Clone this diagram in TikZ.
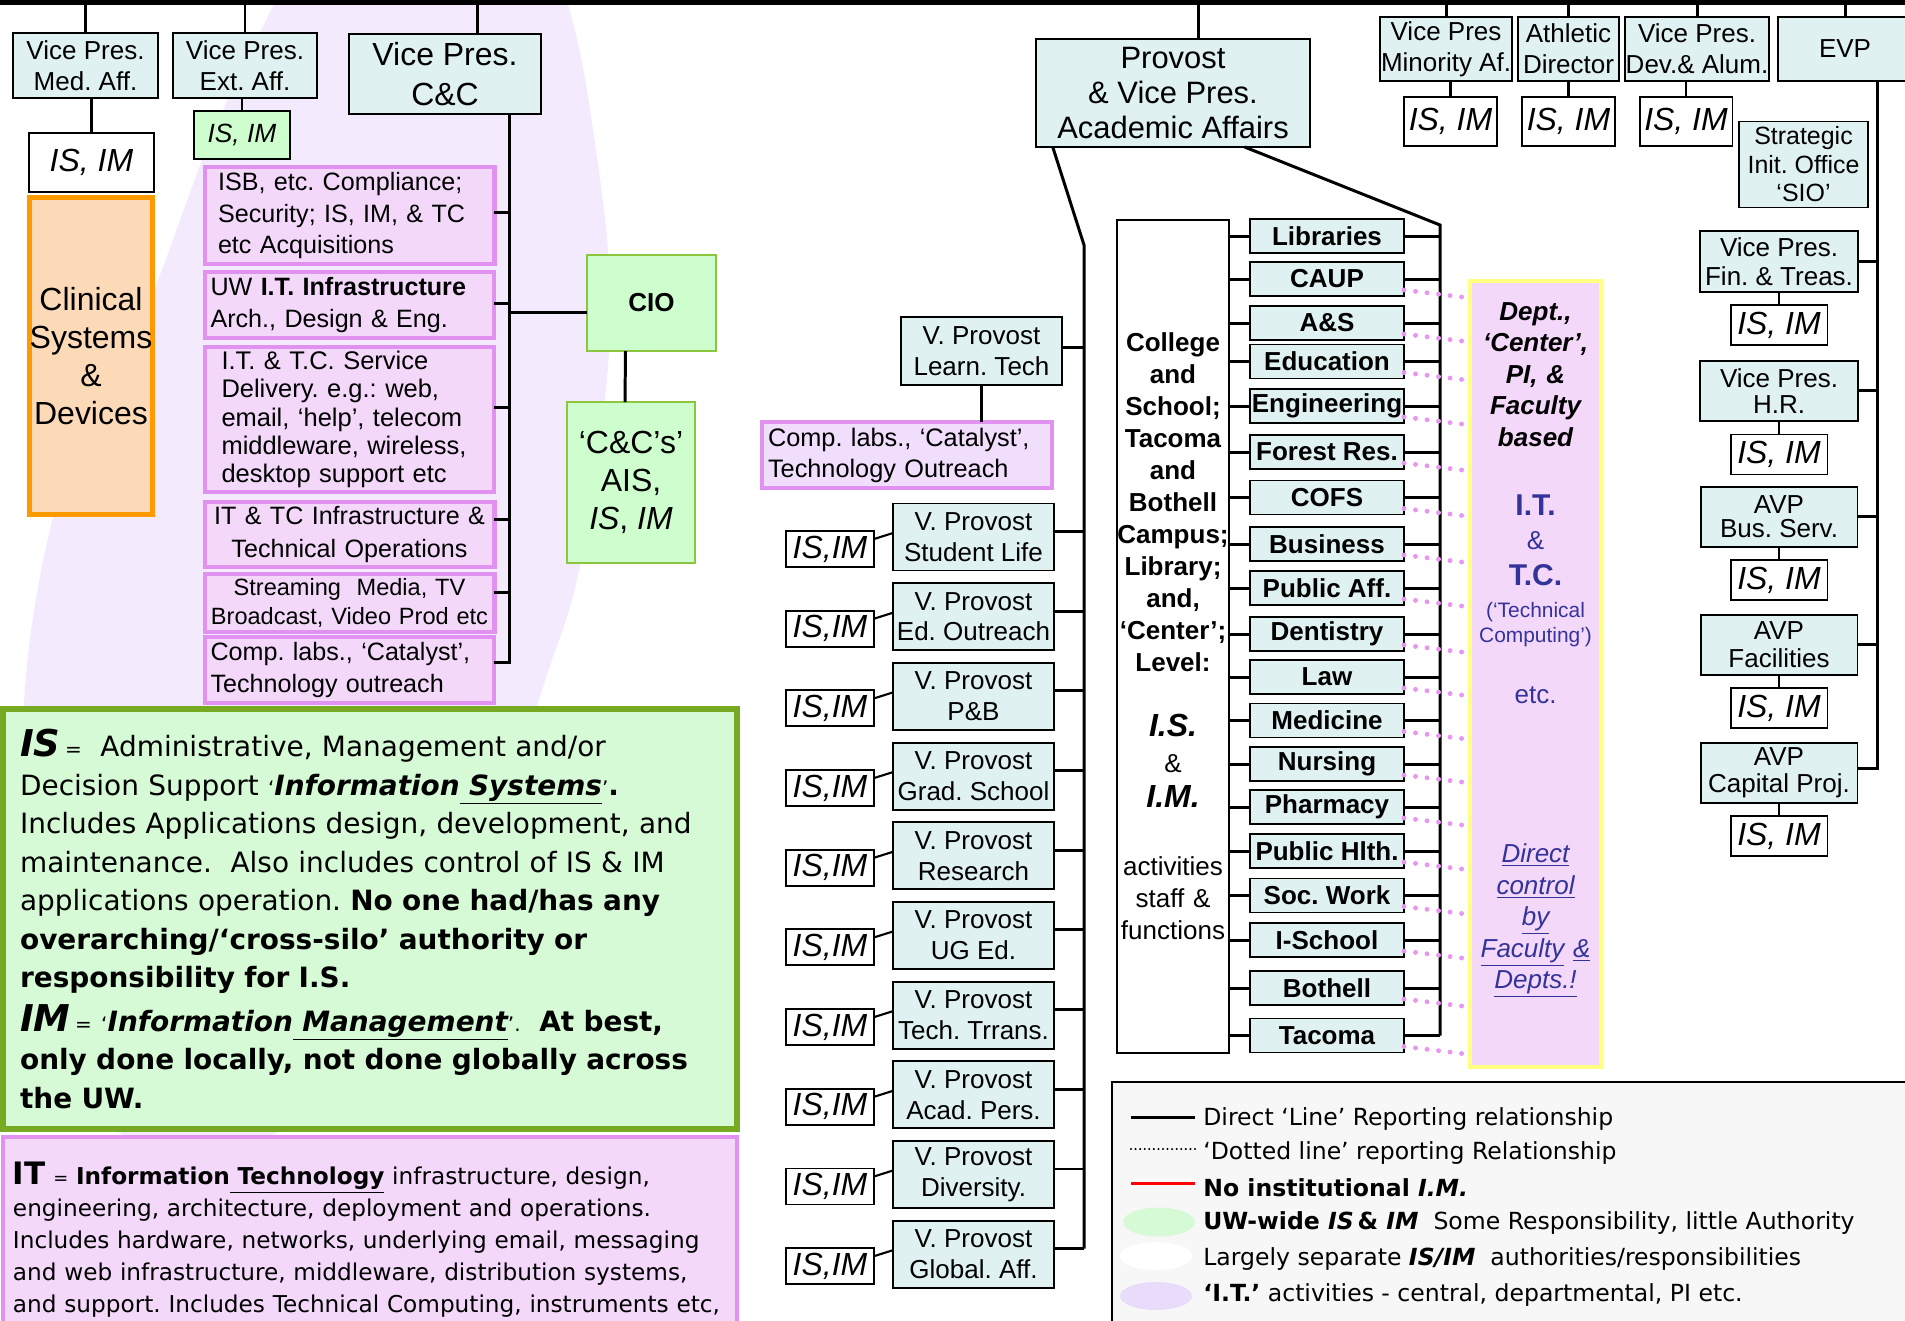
\documentclass[tikz,border=0pt]{standalone}
\usepackage{fontspec}
\setmainfont{Liberation Sans}
\newfontfamily\tahoma{DejaVu Sans}
\usepackage{tikz}
\usetikzlibrary{calc,positioning}
\usepackage{color}
\frenchspacing
\hyphenpenalty=10000
\exhyphenpenalty=10000
\definecolor{vpcyan}{RGB}{223,241,241}
\definecolor{isgreen}{RGB}{206,253,206}
\definecolor{itpink}{RGB}{243,216,250}
\definecolor{labspink}{RGB}{240,222,252}
\definecolor{itpurple}{RGB}{225,145,240}
\definecolor{clinfill}{RGB}{252,218,184}
\definecolor{clinorange}{RGB}{255,153,0}
\definecolor{descgreen}{RGB}{214,250,214}
\definecolor{descborder}{RGB}{119,170,34}
\definecolor{cioborder}{RGB}{140,198,63}
\definecolor{deptyellow}{RGB}{255,255,128}
\definecolor{itblue}{RGB}{51,51,153}
\definecolor{blobpurple}{RGB}{243,235,253}
\definecolor{legendgray}{RGB}{247,247,247}
\definecolor{legendgreen}{RGB}{213,250,213}
\definecolor{legendlilac}{RGB}{232,220,250}
\definecolor{dotpink}{RGB}{232,150,240}
\newcommand{\fpx}[2]{\fontsize{#1}{#2}\selectfont}
\tikzstyle{orgbox} = [rectangle, draw=black, line width=1.1pt, inner sep=0pt, outer sep=0pt, align=center]
\tikzstyle{vpbox} = [orgbox, fill=vpcyan, font=\fpx{14.8pt}{17.6pt}]
\tikzstyle{provbox} = [vpbox, minimum width=3.22cm, minimum height=1.34cm, node distance=1.594cm]
\tikzstyle{isbox} = [orgbox, fill=white, font=\fpx{18.2pt}{20pt}\itshape]
\tikzstyle{itbox} = [orgbox, draw=itpurple, fill=itpink, line width=2.3pt, align=left, inner xsep=0.12cm, text width=5.56cm, font=\fpx{14.3pt}{18pt}]
\tikzstyle{collbox} = [vpbox, minimum width=3.08cm, minimum height=0.68cm, font=\fpx{14.8pt}{17pt}\bfseries]
\tikzstyle{legtext} = [anchor=west, inner sep=0pt, font=\tahoma\fpx{13.4pt}{15pt}]
\tikzstyle{link} = [line width=1.7pt]
\tikzstyle{thinlink} = [line width=1.2pt]
\tikzstyle{dotlink} = [draw=dotpink, line width=2.8pt, line cap=round, dash pattern=on 0pt off 6.6pt]

\begin{document}
\begin{tikzpicture}[x=0.02cm, y=-0.02cm]
\path[use as bounding box, clip] (0,0) rectangle (1905,1320);

\fill[blobpurple] plot[smooth cycle, tension=0.7] coordinates {(276,0) (213,133) (150,300) (90,430) (53,517) (24,703) (30,900) (78,1090) (180,1150) (291,1125) (400,1030) (480,900) (538,703) (577,580) (600,440) (610,300) (596,150) (567,0) (520,-120) (400,-150) (320,-90)};

\draw[line width=2.8pt] (0,2.5) -- (1905,2.5);
\coordinate (bar) at (0,2.5);

\node[vpbox, minimum width=2.9cm, minimum height=1.3cm] (medaff) at (85.5,65.5) {Vice Pres.\\Med. Aff.};
\node[isbox, minimum width=2.5cm, minimum height=1.18cm] (medaff-is) at (91.5,162.5) {IS, IM};
\node[orgbox, draw=clinorange, fill=clinfill, line width=3pt, minimum width=2.42cm, minimum height=6.34cm, font=\fpx{18.2pt}{21.6pt}] (clin) at (91,356) {Clinical\\Systems\\\&\\Devices};
\node[vpbox, minimum width=2.89cm, minimum height=1.3cm] (extaff) at (245,65.5) {Vice Pres.\\Ext. Aff.};
\node[isbox, fill=isgreen, minimum width=1.92cm, minimum height=0.96cm, font=\fpx{15pt}{17pt}\itshape] (extaff-is) at (242,135) {IS, IM};
\node[vpbox, minimum width=3.85cm, minimum height=1.6cm, font=\fpx{18.2pt}{22.8pt}] (cc) at (445,74) {Vice Pres.\\C\&C};

\node[itbox, inner xsep=0.27cm, text width=5.26cm, minimum height=1.94cm] (isb) at (349.5,215.5) {ISB, etc. Compliance;\\Security; IS, IM, \& TC\\etc Acquisitions};
\node[itbox, minimum height=1.32cm] (uwit) at (349.5,305) {UW \textbf{I.T. Infrastructure}\\Arch., Design \& Eng.};
\node[itbox, inner xsep=0.34cm, text width=5.12cm, minimum height=2.9cm, font=\fpx{14.5pt}{16.1pt}] (itsd) at (349.5,419.5) {I.T. \& T.C. Service\\Delivery. e.g.: web,\\email, ‘help’, telecom\\middleware, wireless,\\desktop support etc};
\node[itbox, align=center, inner xsep=0.05cm, text width=5.7cm, minimum height=1.3cm, font=\fpx{14.3pt}{18.6pt}] (ittc) at (349.5,534.5) {IT \& TC Infrastructure \&\\Technical Operations};
\node[itbox, align=center, inner xsep=0.05cm, text width=5.7cm, minimum height=1.16cm, font=\fpx{13.4pt}{16.1pt}] (strm) at (349.5,603) {Streaming~~Media, TV\\Broadcast, Video Prod etc};
\node[itbox, minimum height=1.32cm] (labs) at (349.5,670) {Comp. labs., ‘Catalyst’,\\Technology outreach};

\node[orgbox, fill=isgreen, draw=cioborder, minimum width=2.57cm, minimum height=1.92cm, font=\fpx{14.8pt}{17pt}\bfseries] (cio) at (651.5,303) {CIO};
\node[orgbox, fill=isgreen, draw=cioborder, minimum width=2.57cm, minimum height=3.22cm, font=\fpx{18.2pt}{21.6pt}] (ccs) at (631,482.5) {‘C\&C’s’\\AIS,\\\textit{IS}, \textit{IM}};

\node[orgbox, draw=descborder, fill=descgreen, line width=3.4pt, minimum width=14.68cm, minimum height=8.4cm, align=left, inner xsep=0.34cm, text width=14cm, font=\tahoma\fpx{15.9pt}{21.9pt}] (isdesc) at (370,919) {{\fpx{21pt}{21.9pt}\bfseries\itshape IS}\,{\fpx{11.4pt}{21.9pt}=}~~Administrative, Management and/or\\
Decision Support {\fpx{11.4pt}{21.9pt}‘}{\bfseries\itshape Information\underline{\ Systems}}{\fpx{11.4pt}{21.9pt}’}\textbf{.}\\
Includes Applications design, development, and\\
maintenance.~~Also includes control of IS \& IM\\
applications operation. \textbf{No one had/has any}\\
\textbf{overarching/‘cross-silo’ authority or}\\
\textbf{responsibility for I.S.}\\[3pt]
{\fpx{21pt}{21.9pt}\bfseries\itshape IM}\,{\fpx{11.4pt}{21.9pt}= ‘}{\bfseries\itshape Information\underline{\ Management}}{\fpx{11.4pt}{21.9pt}’.}~~\textbf{At best,}\\
\textbf{only done locally, not done globally across}\\
\textbf{the UW.}};

\node[orgbox, draw=itpurple, fill=itpink, line width=2.3pt, anchor=north west, inner xsep=0.2cm, inner ysep=0.5cm, text width=14.28cm, align=left, font=\tahoma\fpx{13.2pt}{18.2pt}] (itdesc) at (3,1137) {{\fpx{17.6pt}{18.2pt}\bfseries IT}~{\fpx{10.2pt}{18.2pt}=}~\textbf{Information\underline{\ Technology}} infrastructure, design,\\
engineering, architecture, deployment and operations.\\
Includes hardware, networks, underlying email, messaging\\
and web infrastructure, middleware, distribution systems,\\
and support. Includes Technical Computing, instruments etc,};

\draw[link] (medaff-is.north) -- (medaff-is.north |- medaff.south);
\draw[thinlink] (extaff-is.north) -- (extaff-is.north |- extaff.south);
\draw[link] ($(cc.north)+(32,0)$) -- ($(cc.north |- bar)+(32,0)$);
\coordinate (ccbus) at (509,114);
\draw[link] (ccbus) -- ($(ccbus |- labs.east)+(0,-8)$) -- ($(labs.east)+(0,-8)$);
\foreach \b/\s in {isb/-3, uwit/-2, itsd/-12, ittc/-15, strm/-11}
  \draw[link] ($(\b.east)+(0,\s)$) -- ($(\b.east -| ccbus)+(0,\s)$);
\draw[link] ($(cio.west)+(0,9)$) -- ($(cio.west -| ccbus)+(0,9)$);
\draw[link] ($(cio.south)+(-26,0)$) -- ($(ccs.north)+(-6,0)$);

\node[vpbox, minimum width=5.48cm, minimum height=2.16cm, font=\fpx{17.6pt}{19.9pt}] (prov) at (1173,93) {Provost\\\& Vice Pres.\\Academic Affairs};
\draw[link] ($(prov.north)+(25.6,0)$) -- ($(prov.north |- bar)+(25.6,0)$);

\node[vpbox, minimum width=3.22cm, minimum height=1.36cm] (learn) at (981.5,351) {V. Provost\\Learn. Tech};
\node[itbox, fill=labspink, minimum height=1.32cm, font=\fpx{14.4pt}{17.6pt}] (labs2) at (907,455) {Comp. labs., ‘Catalyst’,\\Technology Outreach};

\node[provbox] (vp1) at (973.5,537) {V. Provost\\Student Life};
\node[provbox] (vp2) [below of=vp1] {V. Provost\\Ed. Outreach};
\node[provbox] (vp3) [below of=vp2] {V. Provost\\P\&B};
\node[provbox] (vp4) [below of=vp3] {V. Provost\\Grad. School};
\node[provbox] (vp5) [below of=vp4] {V. Provost\\Research};
\node[provbox] (vp6) [below of=vp5] {V. Provost\\UG Ed.};
\node[provbox] (vp7) [below of=vp6] {V. Provost\\Tech. Trrans.};
\node[provbox] (vp8) [below of=vp7] {V. Provost\\Acad. Pers.};
\node[provbox] (vp9) [below of=vp8] {V. Provost\\Diversity.};
\node[provbox] (vp10) [below of=vp9] {V. Provost\\Global. Aff.};

\foreach \x in {1,...,10}
  \node[isbox, minimum width=1.76cm, minimum height=0.72cm] (vp\x-is) [left of=vp\x, node distance=2.87cm, yshift=-0.24cm] {IS,IM};

\coordinate (lbus) at (1084,245);
\draw[link] ($(prov.south west)+(16.7,0)$) -- (lbus) -- ($(lbus |- vp10.east)+(0,-5.5)$);
\draw[link] ($(learn.east)+(0,-4)$) -- ($(learn.east -| lbus)+(0,-4)$);
\draw[thinlink] (learn.south) -- (learn.south |- labs2.north);
\foreach \x in {1,...,10} {
  \draw[link] ($(vp\x.east)+(0,-5.5)$) -- ($(vp\x.east -| lbus)+(0,-5.5)$);
  \draw[thinlink] ($(vp\x-is.east)+(0,-10)$) -- ($(vp\x.west)+(0,-4)$);
}

\node[orgbox, fill=white, minimum height=16.66cm, text width=2.24cm, font=\fpx{14.8pt}{18.2pt}\bfseries] (coll) at (1173,636.5) {College\\and\\School;\\Tacoma\\and\\Bothell\\Campus;\\Library;\\and,\\‘Center’;\\Level:\\[19pt]\itshape\fpx{18.2pt}{18.2pt}I.S.\\[2pt]\upshape\mdseries\fpx{14.8pt}{18.2pt}\&\\[2pt]\bfseries\itshape\fpx{18.2pt}{18.2pt}I.M.\\[20.5pt]\upshape\mdseries\fpx{14.8pt}{18.2pt}activities\\staff \&\\functions};

\foreach \i/\name/\y in {1/Libraries/236, 2/CAUP/279, 3/A\&S/323, 4/Education/361.5, 5/Engineering/406, 6/Forest Res./452, 7/COFS/497.5, 8/Business/544, 9/Public Aff./588, 10/Dentistry/634, 11/Law/677, 12/Medicine/720.5, 13/Nursing/764, 14/Pharmacy/807, 15/Public Hlth./851, 16/Soc. Work/895.5, 17/I-School/940, 18/Bothell/988, 19/Tacoma/1035.5}
  \node[collbox] (col\i) at (1327,\y) {\name};

\node[orgbox, draw=deptyellow, fill=itpink, line width=2.3pt, minimum width=2.62cm, minimum height=15.72cm] (dept) at (1535.5,674) {};
\node[anchor=north, inner sep=0pt, text width=2.6cm, align=center, font=\fpx{14.8pt}{17.9pt}\bfseries\itshape] (depttext) at (1535.5,302) {Dept.,\\‘Center’,\\PI, \&\\Faculty\\based\\[21.9pt]\upshape\color{itblue}\fpx{17.1pt}{17.9pt}I.T.\\[1.4pt]\mdseries\fpx{14.8pt}{17.9pt}\&\\[2.6pt]\bfseries\fpx{17.1pt}{17.9pt}T.C.\\\mdseries\fpx{11.9pt}{17.9pt}(‘Technical\\[-3.7pt]Computing’)\\[16.8pt]\fpx{14.8pt}{17.9pt}etc.\\[73pt]\itshape\underline{Direct}\\\underline{control}\\\underline{by}\\\underline{Faculty}~\underline{\&}\\\underline{Depts.!}};

\coordinate (rbus) at (1440,225);
\draw[link] ($(prov.south)+(71.6,0)$) -- (rbus) -- (rbus |- col19.east);
\foreach \i in {1,...,19} {
  \draw[link] (coll.east |- col\i.west) -- (col\i.west);
  \draw[link] (col\i.east) -- (col\i.east -| rbus);
}
\foreach \i in {2,...,19}
  \draw[dotlink] ($(col\i.south east)+(0,-6)$) -- ($(col\i.south east -| dept.west)+(0,2)$);

\node[vpbox, minimum width=2.64cm, minimum height=1.28cm] (minaf) at (1446,49) {Vice Pres\\Minority Af.};
\node[vpbox, minimum width=2.02cm, minimum height=1.28cm] (athl) at (1568.5,49) {Athletic\\Director};
\node[vpbox, minimum width=2.88cm, minimum height=1.28cm] (devaf) at (1697,49) {Vice Pres.\\Dev.\& Alum.};
\node[vpbox, minimum width=2.68cm, minimum height=1.28cm] (evp) at (1845,49) {EVP};
\foreach \n/\s in {minaf/4.5, athl/0, devaf/-11} {
  \node[isbox, minimum width=1.86cm, minimum height=0.98cm, xshift=\s*0.02cm] (\n-is) [below of=\n, node distance=1.45cm] {IS, IM};
  \draw[thinlink] (\n-is.north) -- (\n-is.north |- \n.south);
}
\foreach \n in {medaff,extaff,minaf,athl,devaf,evp}
  \draw[link] (\n.north) -- (\n.north |- bar);

\node[vpbox, minimum width=2.58cm, minimum height=1.72cm, font=\fpx{14.2pt}{16.2pt}] (sio) at (1803.5,164.5) {Strategic\\Init. Office\\‘SIO’};
\node[vpbox, minimum width=3.16cm, minimum height=1.22cm, font=\fpx{14.8pt}{16.8pt}] (fin) at (1779,261.5) {Vice Pres.\\Fin. \& Treas.};
\node[vpbox, minimum width=3.16cm, minimum height=1.2cm, font=\fpx{14.8pt}{15.2pt}] (hr) [below of=fin, node distance=2.59cm] {Vice Pres.\\H.R.};
\node[vpbox, minimum width=3.14cm, minimum height=1.2cm, font=\fpx{14.8pt}{13.8pt}] (avpbus) [below of=hr, node distance=2.514cm] {AVP\\Bus. Serv.};
\node[vpbox, minimum width=3.14cm, minimum height=1.2cm, font=\fpx{14.8pt}{16pt}] (fac) [below of=avpbus, node distance=2.566cm] {AVP\\Facilities};
\node[vpbox, minimum width=3.14cm, minimum height=1.2cm, font=\fpx{14.8pt}{15pt}] (cap) [below of=fac, node distance=2.554cm] {AVP\\Capital Proj.};
\foreach \n in {fin,hr,avpbus,fac,cap} {
  \node[isbox, minimum width=1.94cm, minimum height=0.8cm] (\n-is) [below of=\n, node distance=1.27cm] {IS, IM};
  \draw[thinlink] (\n.south) -- (\n-is.north);
}
\coordinate (ebus) at (1877,81);
\draw[link] (ebus) -- ($(ebus |- cap.east)+(0,-4)$) -- ($(cap.east)+(0,-4)$);
\foreach \n in {fin,hr,avpbus,fac}
  \draw[link] (\n.east) -- (\n.east -| ebus);

\node[orgbox, fill=legendgray, anchor=north west, minimum width=16cm, minimum height=5cm] (legend) at (1112,1082) {};
\draw[line width=1.7pt] (1131,1117) -- (1195,1117);
\draw[line width=1.3pt, line cap=round, dash pattern=on 0pt off 2.6pt] (1131,1149) -- (1195,1149);
\draw[line width=1.7pt, red] (1131,1183) -- (1195,1183);
\fill[legendgreen] (1159,1222) ellipse (0.72cm and 0.29cm);
\fill[white] (1156,1256) ellipse (0.72cm and 0.28cm);
\fill[legendlilac] (1156,1296) ellipse (0.72cm and 0.28cm);
\node[legtext] (leg1) at (1203,1119) {Direct ‘Line’ Reporting relationship};
\node[legtext] (leg2) at (1203,1153) {‘Dotted line’ reporting Relationship};
\node[legtext] (leg3) at (1203,1188) {\textbf{No institutional \textit{I.M.}}};
\node[legtext] (leg4) at (1203,1223) {\textbf{UW-wide \textit{IS}\,\& \textit{IM}}~~Some Responsibility, little Authority};
\node[legtext] (leg5) at (1203,1259) {Largely separate \textbf{\textit{IS/IM}}~~authorities/responsibilities};
\node[legtext] (leg6) at (1203,1295) {\textbf{‘I.T.’} activities - central, departmental, PI etc.};

\end{tikzpicture}
\end{document}
